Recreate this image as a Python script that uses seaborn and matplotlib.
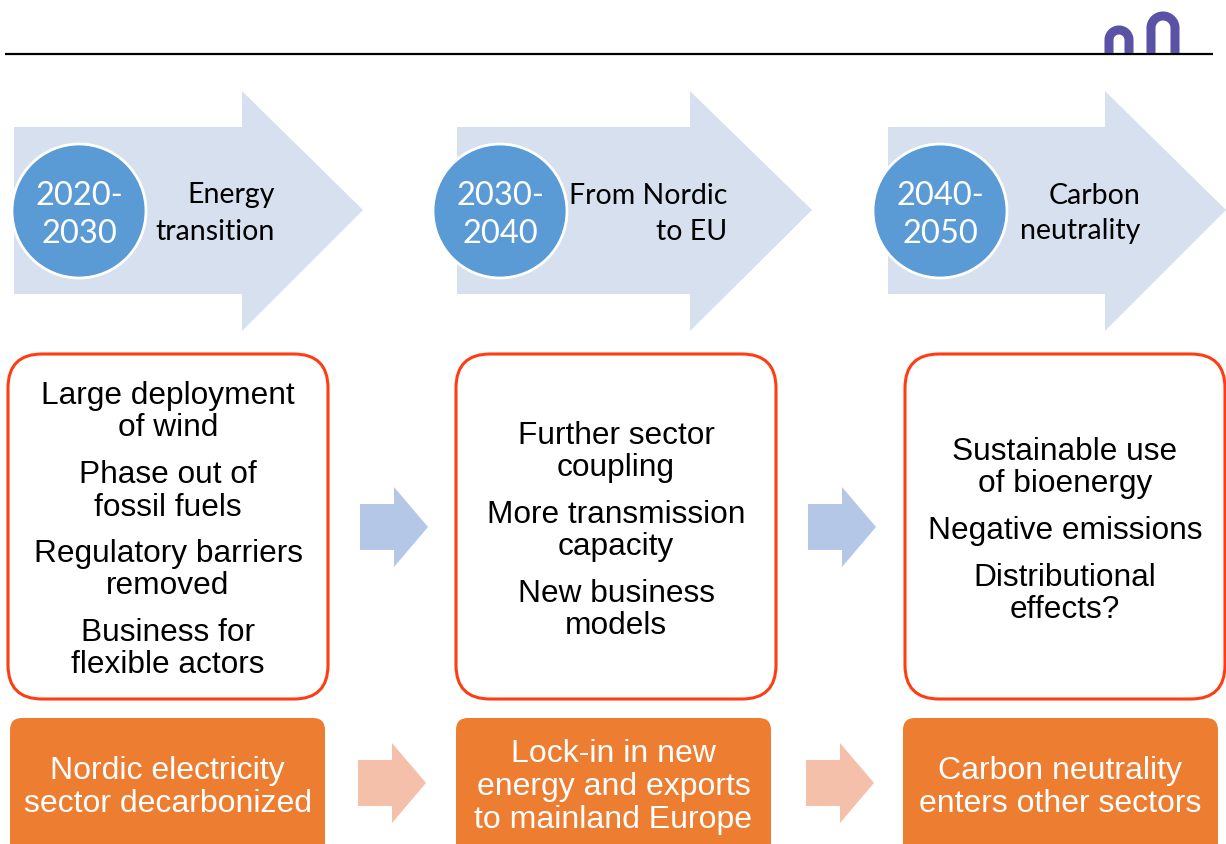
import matplotlib
matplotlib.use("Agg")
import matplotlib.pyplot as plt
import seaborn as sns
from matplotlib.patches import Polygon, Circle, FancyBboxPatch
import numpy as np

# ---- content ----
periods = ["2020-\n2030", "2030-\n2040", "2040-\n2050"]
themes = ["Energy\ntransition", "From Nordic\nto EU", "Carbon\nneutrality"]
features = [
    ["Large deployment\nof wind", "Phase out of\nfossil fuels",
     "Regulatory barriers\nremoved", "Business for\nflexible actors"],
    ["Further sector\ncoupling", "More transmission\ncapacity",
     "New business\nmodels"],
    ["Sustainable use\nof bioenergy", "Negative emissions",
     "Distributional\neffects?"],
]
outcomes = [
    "Nordic electricity\nsector decarbonized",
    "Lock-in in new\nenergy and exports\nto mainland Europe",
    "Carbon neutrality\nenters other sectors",
]

# ---- style ----
sns.set_theme(style="white")
plt.rcParams['font.family'] = ['Liberation Sans', 'DejaVu Sans']

W, H = 1226, 845
fig = plt.figure(figsize=(W / 100, H / 100), dpi=100)
ax = fig.add_axes([0, 0, 1, 1])
ax.set_xlim(0, W)
ax.set_ylim(H, 0)
ax.axis("off")

BIG_ARROW = "#D6E0EF"
CIRCLE = "#5B9BD5"
BOX_EDGE = "#FF3D12"
ORANGE = "#ED7D31"
SMALL_BLUE = "#B4C7E7"
SMALL_PINK = "#F4C0AA"
LOGO = "#5A52A5"

# header line and logo
ax.plot([5, 1213], [55, 55], color="black", lw=1.6, solid_capstyle="butt")
for cx, r, cy in [(1119, 10, 41), (1163, 12, 29)]:
    t = np.linspace(np.pi, 0, 60)
    xs = np.concatenate([[cx - r], cx + r * np.cos(t), [cx + r]])
    ys = np.concatenate([[54], cy - r * np.sin(t), [54]])
    ax.plot(xs, ys, color=LOGO, lw=6.5, solid_capstyle="butt", zorder=3)

# big arrows, circles, titles
arrow_left = [14, 457, 888]
head_x = [242, 690, 1105]
tip_x = [363, 812, 1226]
circle_x = [79, 500, 940]
theme_right = [275, 727, 1140]
for i in range(3):
    pts = [(arrow_left[i], 128), (head_x[i], 128), (head_x[i], 92),
           (tip_x[i], 211), (head_x[i], 332), (head_x[i], 295),
           (arrow_left[i], 295)]
    ax.add_patch(Polygon(pts, closed=True, facecolor=BIG_ARROW,
                         edgecolor="none", zorder=1))
    ax.add_patch(Circle((circle_x[i], 212), 67, facecolor=CIRCLE,
                        edgecolor="white", lw=2, zorder=2))
    for k, line in enumerate(periods[i].split("\n")):
        ax.text(circle_x[i], 193 + k * 38, line, color="white",
                fontsize=23.5, family=["Lato", "DejaVu Sans"],
                ha="center", va="center_baseline", zorder=3)
    for k, line in enumerate(themes[i].split("\n")):
        ax.text(theme_right[i], 193 + k * 36, line, color="black",
                fontsize=20.5, family=["Lato", "DejaVu Sans"],
                ha="right", va="center_baseline", zorder=3)

# feature boxes
box_left = [8, 456, 905]
box_w = 320
box_top, box_bot = 355, 700
for i in range(3):
    ax.add_patch(FancyBboxPatch((box_left[i], box_top), box_w,
                                box_bot - box_top,
                                boxstyle="round,pad=0,rounding_size=34",
                                facecolor="white", edgecolor=BOX_EDGE,
                                lw=2.2, zorder=2))
    items = [it.split("\n") for it in features[i]]
    nlines = sum(len(it) for it in items)
    step, gap = 32, 15
    span = (nlines - 1) * step + (len(items) - 1) * gap
    y = (box_top + box_bot) / 2 - span / 2
    cx = box_left[i] + box_w / 2
    for it in items:
        for line in it:
            ax.text(cx, y, line, fontsize=22.8, color="black",
                    ha="center", va="center_baseline", zorder=3)
            y += step
        y += gap

# small arrows
for sx, color, cy in [(360, SMALL_BLUE, 528), (808, SMALL_BLUE, 528),
                      (358, SMALL_PINK, 784), (806, SMALL_PINK, 784)]:
    pts = [(sx, cy - 23), (sx + 34, cy - 23), (sx + 34, cy - 40),
           (sx + 68, cy), (sx + 34, cy + 40), (sx + 34, cy + 23),
           (sx, cy + 23)]
    ax.add_patch(Polygon(pts, closed=True, facecolor=color,
                         edgecolor="none", zorder=1))

# outcome boxes
out_left = [10, 456, 903]
out_w = 315
for i in range(3):
    ax.add_patch(FancyBboxPatch((out_left[i], 719), out_w, 140,
                                boxstyle="round,pad=0,rounding_size=12",
                                facecolor=ORANGE, edgecolor="none",
                                zorder=2))
    lines = outcomes[i].split("\n")
    step = 33
    y = 784 - (len(lines) - 1) * step / 2
    for line in lines:
        ax.text(out_left[i] + out_w / 2, y, line, fontsize=23,
                color="white", ha="center", va="center_baseline", zorder=3)
        y += step

fig.savefig("out.png", dpi=100)
